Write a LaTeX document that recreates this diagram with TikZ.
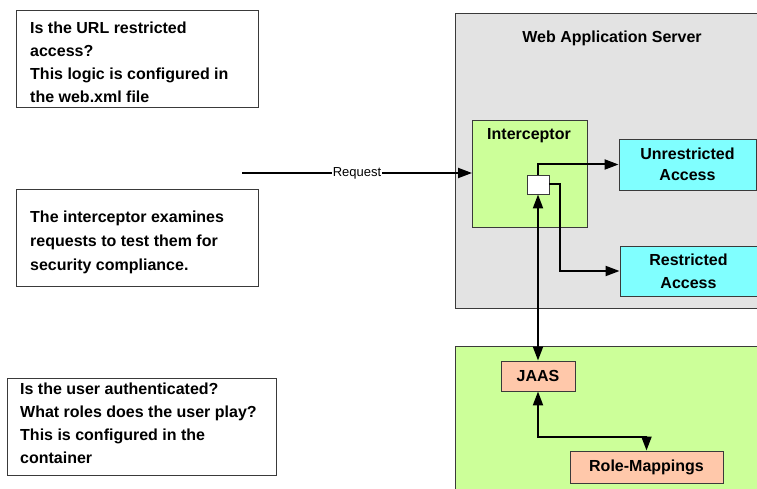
\documentclass[tikz,border=0pt]{standalone}
\usepackage{fontspec}
\setmainfont{Liberation Sans}
\usetikzlibrary{arrows.meta,calc}

\definecolor{servergray}{HTML}{E3E3E3}
\definecolor{zonegreen}{HTML}{CCFF99}
\definecolor{accesscyan}{HTML}{80FFFF}
\definecolor{peach}{HTML}{FFC8AA}
\definecolor{edgegray}{HTML}{3A3A3A}

\begin{document}
\begin{tikzpicture}[x=1pt,y=-1pt,
  boxfont/.style={font=\fontsize{16}{23}\selectfont\bfseries},
  note/.style={draw=edgegray, line width=0.9pt, fill=white,
    anchor=north west, inner sep=0pt, minimum height=97pt},
  notetext/.style={boxfont, align=left, anchor=west, inner sep=0pt},
  region/.style={draw=edgegray, line width=0.9pt, anchor=north west,
    inner sep=0pt},
  tag/.style={boxfont, inner sep=0pt},
  access/.style={font=\fontsize{16}{21}\selectfont\bfseries, draw=edgegray,
    line width=0.9pt, fill=accesscyan, align=center, inner sep=0pt,
    minimum width=137pt},
  peachbox/.style={boxfont, draw=edgegray, line width=0.9pt, fill=peach,
    inner sep=0pt},
  flow/.style={line width=2pt, -{Triangle[length=14pt,width=10pt]}},
  twoway/.style={line width=2pt,
    {Triangle[length=14pt,width=10pt]}-{Triangle[length=14pt,width=10pt]}}
]
\useasboundingbox (0,0) rectangle (757,489);

% explanatory notes on the left
\node[note, minimum width=242pt] (urlnote) at (16,10) {};
\node[notetext] (urltext) at ($(urlnote.west)+(14,3)$)
  {Is the URL restricted\\access?\\This logic is configured in\\the web.xml file};
\node[note, minimum width=242pt] (icptnote) at (16,189) {};
\node[notetext, font=\fontsize{16}{24}\selectfont\bfseries] (icpttext)
  at ($(icptnote.west)+(14,4)$)
  {The interceptor examines\\requests to test them for\\security compliance.};
\node[note, minimum width=269pt] (authnote) at (7,378) {};
\node[notetext] (authtext) at ($(authnote.west)+(13,-4)$)
  {Is the user authenticated?\\What roles does the user play?\\This is configured in the\\container};

% web application server
\node[region, fill=servergray, minimum width=310pt, minimum height=295pt]
  (server) at (455,13) {};
\node[tag] (servertitle) at (612,38) {Web Application Server};

% interceptor with its decision point
\node[region, fill=zonegreen, minimum width=115pt, minimum height=107pt]
  (icpt) at (472,120) {};
\node[tag] (icpttitle) at (529,136) {Interceptor};
\node[draw=edgegray, line width=0.9pt, fill=white, minimum width=22pt,
  minimum height=19pt, inner sep=0pt] (gate) at (538,184.5) {};

\node[access, minimum height=51pt] (unres) at (687.5,164.5) {Unrestricted\\Access};
\node[access, minimum height=50pt, font=\fontsize{16}{23}\selectfont\bfseries]
  (res) at (688.5,271) {Restricted\\Access};

% container security
\node[region, fill=zonegreen, minimum width=310pt, minimum height=160pt]
  (container) at (455,346) {};
\node[peachbox, minimum width=74pt, minimum height=30pt] (jaas) at (538,376) {JAAS};
\node[peachbox, minimum width=153pt, minimum height=32pt] (rolemap) at (646.5,467)
  {Role-Mappings};

% connectors
\coordinate (reqstart) at (242,173);
\draw[flow] (reqstart) -- node[fill=white, inner sep=0.5pt,
  font=\fontsize{13}{15}\selectfont] (reqlabel) {Request} (reqstart -| icpt.west);
\draw[flow] (gate.north) |- (unres.west);
\draw[flow] (gate.east) -- ++(11,0) |- (res.west);
\draw[twoway] (jaas.north) -- (gate.south);
\draw[twoway] (jaas.south) -- ++(0,46) -| (rolemap.north);
\end{tikzpicture}
\end{document}
